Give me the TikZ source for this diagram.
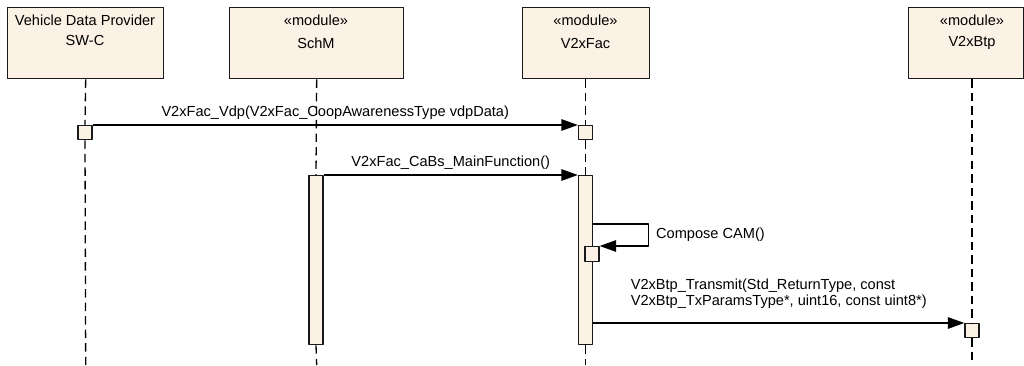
\documentclass[tikz,border=0pt]{standalone}
\usepackage{fontspec}
\setmainfont{Liberation Sans}
\usetikzlibrary{arrows.meta,positioning}
\definecolor{lifefill}{RGB}{251,241,228}
\tikzset{
  headbox/.style={draw=black!90, fill=lifefill, line width=0.8pt, inner sep=0pt, anchor=north west, minimum height=1.42cm},
  actbox/.style={draw=black!90, fill=lifefill, line width=0.75pt, inner sep=0pt, anchor=north, minimum width=0.28cm},
  lifeline/.style={line width=0.75pt, dash pattern=on 4.8pt off 2.9pt},
  msg/.style={-{Triangle[length=0.33cm,width=0.23cm]}, line width=0.75pt},
  txt/.style={inner sep=0pt}
}
\begin{document}
\begin{tikzpicture}[x=0.02cm, y=-0.02cm, font=\fontsize{8.3}{9.1}\selectfont, line join=round]
	\useasboundingbox (0,0) rectangle (1024,365);
	%% heads
	\node[headbox, minimum width=3.12cm] (vdp) at (7,7) {};
	\node[headbox, minimum width=3.48cm] (schm) at (229,7) {};
	\node[headbox, minimum width=2.54cm] (fac) at (522,7) {};
	\node[headbox, minimum width=2.30cm] (btp) at (908,7) {};
	\node[txt] (vdpname) at (85,20) {Vehicle Data Provider};
	\node[txt] (vdpkind) at (85,40) {SW-C};
	\node[txt] (schmst) at (316,20) {«module»};
	\node[txt] (schmname) at (316,43) {SchM};
	\node[txt] (facst) at (585.5,20) {«module»};
	\node[txt] (facname) at (585.5,43) {V2xFac};
	\node[txt] (btpst) at (972,20) {«module»};
	\node[txt] (btpname) at (972,43) {V2xBtp};
	%% activations
	\node[actbox, minimum height=0.28cm] (vdpact) at (85,125) {};
	\node[actbox, minimum height=0.28cm] (facact) at (585.5,125) {};
	\node[actbox, minimum height=3.38cm] (schmbar) at (316,175) {};
	\node[actbox, minimum height=3.38cm] (facbar) at (585.5,175) {};
	\node[actbox, minimum height=0.3cm] (composeact) at (592,246) {};
	\node[actbox, minimum height=0.28cm] (btpact) at (972,323) {};
	%% lifelines
	\draw[lifeline] (vdp.south) -- (vdpact.north);
	\draw[lifeline] (vdpact.south) -- (vdp.south |- 0,365);
	\draw[lifeline] (schm.south) -- (schmbar.north);
	\draw[lifeline] (schmbar.south) -- (schm.south |- 0,365);
	\draw[lifeline] (facact |- fac.south) -- (facact.north);
	\draw[lifeline] (facact.south) -- (facbar.north);
	\draw[lifeline] (facbar.south) -- (facbar.south |- 0,365);
	\draw[lifeline] (btpact |- btp.south) -- (btpact.north);
	\draw[lifeline] (btpact.south) -- (btpact.south |- 0,365);
	%% messages
	\draw[msg] (vdpact.north east) -- (facact.north west)
		node[midway, above=2.5pt, txt] (m1) {V2xFac\_Vdp(V2xFac\_CoopAwarenessType vdpData)};
	\draw[msg] (schmbar.north east) -- (facbar.north west)
		node[midway, above=3pt, txt] (m2) {V2xFac\_CaBs\_MainFunction()};
	\coordinate (selfout) at (592.5,224);
	\draw[msg] (selfout) -- ++(56,0) -- ++(0,22)
		node[midway, right=4pt, txt] (m3) {Compose CAM()} -- (composeact.north east);
	\draw[msg] (facbar.east |- btpact.north west) -- (btpact.north west)
		node[midway, above=8pt, txt, align=left] (m4) {V2xBtp\_Transmit(Std\_ReturnType, const\\V2xBtp\_TxParamsType*, uint16, const uint8*)};
\end{tikzpicture}
\end{document}
